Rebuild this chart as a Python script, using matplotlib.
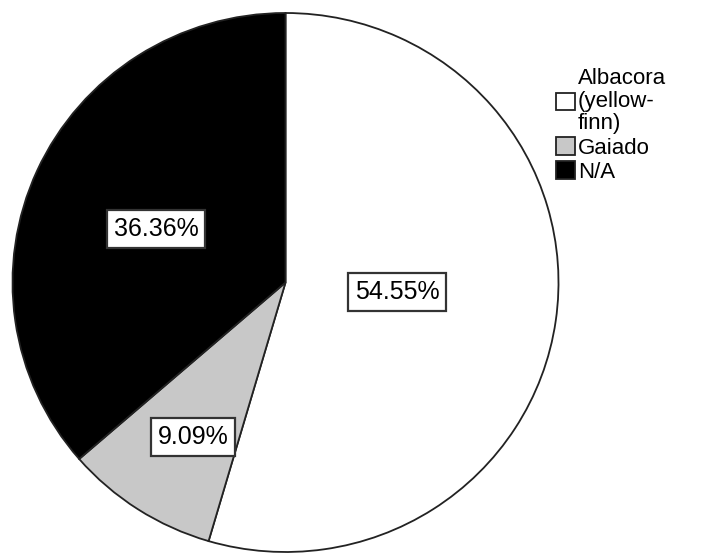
import numpy as np
import matplotlib
matplotlib.use("Agg")
import matplotlib.pyplot as plt

plt.rcParams['font.family'] = ['Liberation Sans', 'DejaVu Sans']

labels = ["Albacora\n(yellow-\nfinn)", "Gaiado", "N/A"]
counts = [6, 1, 4]
colors = ["white", "#c8c8c8", "black"]

# where each percentage box sits, in pie-radius units from the centre
label_pos = [(0.408, -0.035), (-0.339, -0.573), (-0.474, 0.199)]

W, H = 702, 553
fig = plt.figure(figsize=(W / 100, H / 100), dpi=100)
# pie box in pixels: left 12.5, top 13, width 546, height 539
ax = fig.add_axes([12.5 / W, (H - 13 - 539) / H, 546 / W, 539 / H])
ax.set_axis_off()

wedges, _ = ax.pie(counts, colors=colors, startangle=90, counterclock=False,
                   wedgeprops=dict(edgecolor="#222222", linewidth=1.3))
ax.set_aspect('auto')
ax.set_xlim(-1, 1)
ax.set_ylim(-1, 1)

total = sum(counts)
for c, (x, y) in zip(counts, label_pos):
    ax.text(x, y, "%.2f%%" % (100.0 * c / total),
            ha="center", va="center", fontsize=18,
            bbox=dict(boxstyle="square,pad=0.27", facecolor="white",
                      edgecolor="#333333", linewidth=1.6))

leg = fig.legend(wedges, labels, loc="upper left",
                 bbox_to_anchor=(545 / W, 1 - 57 / H),
                 frameon=False, fontsize=16, handlelength=0.85, handleheight=0.85,
                 handletextpad=0.12, labelspacing=0.12, borderpad=0)
for t in leg.get_texts():
    t.set_linespacing(1.1)

fig.savefig("out.png", dpi=100)
